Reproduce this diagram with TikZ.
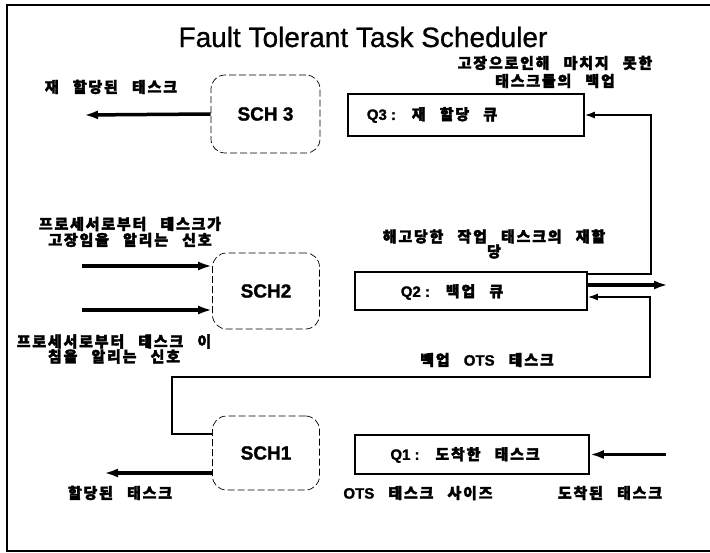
\documentclass[tikz,border=0pt]{standalone}
\usepackage{fontspec}
\setmainfont{Liberation Sans}[BoldFont={Liberation Sans Bold}]
\newfontfamily\krfont[LetterSpace=12,WordSpace=2.7,FakeBold=2.5]{Noto Sans CJK KR}
\newfontfamily\latfont{Liberation Sans}[BoldFont={Liberation Sans Bold},BoldFeatures={FakeBold=1.5}]
\newfontfamily\titlefont{Liberation Sans}[FakeBold=0.8]
\usetikzlibrary{arrows.meta}
\begin{document}
\begin{tikzpicture}[x=1pt,y=-1pt,
  qbox/.style={draw, line width=1.6pt, minimum width=234pt, minimum height=40pt, inner sep=0pt},
  schbox/.style={draw, line width=0.7pt, dash pattern=on 7pt off 3pt, rounded corners=14pt,
    minimum width=107pt, minimum height=76pt, inner sep=0pt,
    font=\latfont\bfseries\fontsize{19}{22}\selectfont},
  lbl/.style={font=\krfont\bfseries\fontsize{15}{17}\selectfont, inner sep=0pt, align=center},
  link/.style={line width=1.5pt, -{Latex[length=10pt,width=7pt]}},
  bigarrow/.style={line width=3.5pt, -{Latex[length=14pt,width=9pt]}}
]
\useasboundingbox (0,0) rectangle (710,553);
\draw[line width=1.5pt] (715,5) -- (7,5) -- (7,551) -- (715,551);

\node[font=\titlefont\fontsize{28}{32}\selectfont] (title) at (363,37) {Fault Tolerant Task Scheduler};

% scheduler boxes
\node[schbox, minimum width=109pt, minimum height=78pt] (sch3) at (265.5,114) {SCH 3};
\node[schbox] (sch2) at (266,291) {SCH2};
\node[schbox, minimum height=74pt] (sch1) at (266,453) {SCH1};

% queue boxes
\node[qbox, minimum width=236pt, minimum height=42pt] (q3) at (466,115) {};
\node[lbl] (q3t) at (432,115) {{\latfont\bfseries Q3 :} 재 할당 큐};
\node[qbox, minimum width=232pt, minimum height=38pt] (q2) at (471,291) {};
\node[lbl] (q2t) at (452,292) {{\latfont\bfseries Q2 :} 백업 큐};
\node[qbox, minimum height=39pt] (q1) at (472,454.5) {};
\node[lbl] (q1t) at (465,455) {{\latfont\bfseries Q1 :} 도착한 태스크};

% labels
\node[lbl] (l1) at (111,87) {재 할당된 태스크};
\node[lbl, font=\krfont\bfseries\fontsize{15}{18}\selectfont] (l2) at (555,72) {고장으로인해 마치지 못한\\태스크들의 백업};
\node[lbl, font=\krfont\bfseries\fontsize{15}{16}\selectfont] (l3) at (130,232) {프로세서로부터 태스크가\\고장임을 알리는 신호};
\node[lbl, font=\krfont\bfseries\fontsize{15}{15}\selectfont] (l4) at (494,244) {해고당한 작업 태스크의 재할\\당};
\node[lbl, font=\krfont\bfseries\fontsize{15}{15}\selectfont] (l5) at (114,349) {프로세서로부터 태스크 이\\침을 알리는 신호};
\node[lbl] (l6) at (487,360) {백업 {\latfont\bfseries OTS} 태스크};
\node[lbl] (l7) at (120,493) {할당된 태스크};
\node[lbl] (l8) at (418,493) {{\latfont OTS} 태스크 사이즈};
\node[lbl] (l9) at (610,493) {도착된 태스크};

% free ends
\coordinate (o3) at (84,115);
\coordinate (i2a) at (82,266);
\coordinate (i2b) at (82,310);
\coordinate (o1) at (104,473);
\coordinate (o2) at (668,285);
\coordinate (i1) at (666,454.5);
\coordinate (b1) at (650,377);

% thick arrows
\draw[bigarrow] (sch3.west) -- (o3);
\draw[bigarrow] (i2a) -- ([yshift=25pt]sch2.west);
\draw[bigarrow] (i2b) -- ([yshift=-19pt]sch2.west);
\draw[bigarrow] ([yshift=-20pt]sch1.west) -- (o1);
\draw[bigarrow] ([yshift=6pt]q2.east) -- (o2);
\draw[bigarrow] (i1) -- (q1.east);

% thin connectors
\draw[link] ([yshift=-3pt]q2.north east) -- ++(63,0) |- (q3.east);
\draw[link] ([yshift=19pt]sch1.west) -- ++(-40,0) |- (b1) |- ([yshift=-6pt]q2.east);
\end{tikzpicture}
\end{document}
